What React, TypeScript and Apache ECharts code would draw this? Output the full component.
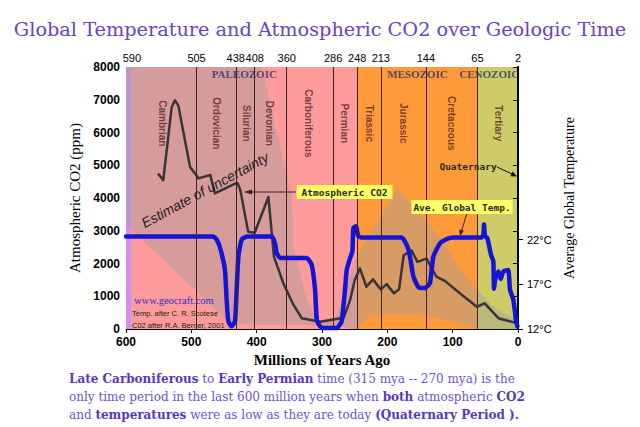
import React, { useEffect, useRef } from "react";
import * as echarts from "echarts";

// Atmospheric CO2 (ppm) vs millions of years ago
const co2Ages = [551, 543, 530, 525, 520, 502, 489, 471, 464, 433, 429, 425, 413, 403, 382, 373.5, 359, 344, 331, 303, 287, 272, 267, 257, 250, 242, 232, 222, 210, 201, 190, 182, 175, 163, 154, 140, 125, 112, 89, 63, 51, 30, 5];
const co2Ppm = [4750, 4540, 6780, 6980, 6830, 4950, 4600, 4700, 4140, 4440, 4450, 4240, 2970, 2940, 4030, 2200, 1390, 750, 330, 222, 275, 326, 330, 880, 1490, 1850, 1290, 1515, 1210, 1370, 1090, 1210, 2250, 2400, 2050, 2150, 1600, 1470, 1090, 680, 784, 330, 195];

// Average global temperature (°C)
const tempAges = [600, 467, 462, 456, 448.5, 446, 443.4, 438.4, 433.2, 430.6, 428, 423, 415, 377, 372, 369.4, 364, 323.5, 315.8, 310.6, 308, 303, 298, 277.5, 270, 264.8, 262.2, 257, 253.5, 252, 248, 244.5, 240, 178, 169.4, 165.3, 160.2, 152.6, 142.3, 134.7, 129.6, 119.4, 108, 99, 55.6, 53, 52, 50.5, 47, 41.3, 37.8, 36.7, 35, 30, 26.5, 22.5, 14.8, 12.3, 7.2, 3.1, 1];
const tempCelsius = [22.37, 22.37, 22.1, 21.1, 18.6, 15.3, 12.85, 12.3, 12.85, 16.4, 20.1, 22, 22.37, 22.37, 21.6, 20.5, 19.95, 19.95, 19.2, 16.4, 13, 12.3, 12.1, 12.1, 12.85, 16.4, 18.6, 19.95, 20.7, 23.3, 23.5, 22.4, 22.26, 22.26, 21.25, 20.1, 17.9, 16.7, 16.6, 17.15, 20.1, 21.6, 22.1, 22.26, 22.26, 22.5, 23.7, 22.4, 22.2, 20.3, 19.6, 16.5, 17.5, 18.45, 17.6, 18.45, 18.6, 16.4, 15.3, 13, 12.3];

// Estimate of uncertainty band for CO2
const bandAges = [600, 441, 395, 390, 346, 344, 323, 308, 280, 247, 226.5, 184, 150, 115, 94, 63, 38, 2];
const bandUpper = [8000, 8000, 8000, 7800, 4030, 2500, 890, 250, 300, 2210, 2900, 4300, 3500, 2710, 2000, 1190, 680, 275];
const bandLower = [3190, 180, 120, 120, 120, 120, 120, 100, 100, 0, 430, 430, 430, 300, 200, 0, 0, 0];

// Period boundaries: where they are drawn on the age scale, and their labels
const boundaryPositions = [591, 492, 432, 403, 354, 283, 246, 210, 141, 62, 0];
const boundaryLabels = ["590", "505", "438", "408", "360", "286", "248", "213", "144", "65", "2"];

// Background bands (age ranges) and colours
const bandStarts = [600, 591, 246, 62];
const bandEnds = [591, 246, 62, 0];
const bandColors = ["#d690e2", "#fd9a9a", "#ff9a3a", "#cdcc68"];

const periodNames = ["Cambrian", "Ordovician", "Silurian", "Devonian", "Carboniferous", "Permian", "Triassic", "Jurassic", "Cretaceous", "Tertiary"];
const periodCenters = [544, 461, 416, 380, 321, 265, 228, 174.5, 101.5, 30];
const periodLabelLevel = 6280;

const eraNames = ["PALEOZOIC", "MESOZOIC", "CENOZOIC"];
const eraCenters = [419, 154, 44];
const eraLabelLevel = 7775;

const co2Min = 0;
const co2Max = 8000;
const co2Interval = 1000;
const tempMin = 12;
const tempMax = 41.34;
const tempTicks = [12, 17, 22];
const ageMin = 0;
const ageMax = 600;
const ageInterval = 100;

const arrowColor = "#3a2424";

export default function App() {
  const ref = useRef<HTMLDivElement>(null);
  useEffect(() => {
    const chart = echarts.init(ref.current as HTMLDivElement, null, { renderer: "svg" });
    const option: any = {
      animation: false,
      backgroundColor: "#ffffff",
      title: {
        text: "Global Temperature and Atmospheric CO2 over Geologic Time",
        left: "center",
        top: 15,
        textStyle: { fontFamily: "DejaVu Serif", fontSize: 19.3, fontWeight: "normal", color: "#6a42c8" },
      },
      grid: { left: 126, right: 122, top: 67, bottom: 98 },
      xAxis: [
        {
          type: "value",
          min: ageMin,
          max: ageMax,
          interval: ageInterval,
          inverse: true,
          position: "bottom",
          name: "Millions of Years Ago",
          nameLocation: "middle",
          nameGap: 21,
          nameTextStyle: { fontFamily: "Liberation Serif", fontSize: 15, fontWeight: "bold", color: "#000" },
          axisLine: { show: true, lineStyle: { color: "#000", width: 1 } },
          axisTick: { show: true, length: 4, lineStyle: { color: "#000" } },
          axisLabel: { fontFamily: "Liberation Sans", fontSize: 12, fontWeight: "bold", color: "#000", margin: 7, formatter: (v: number) => String(v) },
          splitLine: { show: false },
        },
        {
          type: "value",
          min: ageMin,
          max: ageMax,
          inverse: true,
          position: "top",
          axisLine: { show: false },
          axisTick: { show: false },
          splitLine: { show: false },
          axisLabel: {
            customValues: boundaryPositions,
            formatter: (v: number) => {
              const i = boundaryPositions.indexOf(v);
              return i >= 0 ? boundaryLabels[i] : "";
            },
            fontFamily: "Liberation Sans",
            fontSize: 11,
            color: "#000",
            margin: 4,
          },
        },
      ],
      yAxis: [
        {
          type: "value",
          min: co2Min,
          max: co2Max,
          interval: co2Interval,
          name: "Atmospheric CO2 (ppm)",
          nameLocation: "middle",
          nameGap: 41,
          nameTextStyle: { fontFamily: "Liberation Serif", fontSize: 15, color: "#000" },
          axisLine: { show: true, lineStyle: { color: "#000", width: 1 } },
          axisTick: { show: true, length: 5, lineStyle: { color: "#000" } },
          axisLabel: { fontFamily: "Liberation Sans", fontSize: 12, fontWeight: "bold", color: "#000", margin: 6, formatter: (v: number) => String(v) },
          splitLine: { show: false },
        },
        {
          type: "value",
          min: tempMin,
          max: tempMax,
          position: "right",
          name: "Average Global Temperature",
          nameLocation: "middle",
          nameGap: 41,
          nameTextStyle: { fontFamily: "Liberation Serif", fontSize: 14, color: "#000" },
          axisLine: { show: true, lineStyle: { color: "#000", width: 2 } },
          axisTick: { show: true, length: 5, customValues: tempTicks, lineStyle: { color: "#000" } },
          axisLabel: {
            customValues: tempTicks,
            formatter: (v: number) => v + "°C",
            fontFamily: "Liberation Sans",
            fontSize: 11,
            color: "#000",
            margin: 9,
          },
          splitLine: { show: false },
        },
      ],
      series: [
        {
          type: "custom",
          name: "background",
          silent: true,
          z: 0,
          clip: true,
          data: bandStarts.map((s, i) => [s, bandEnds[i]]),
          encode: { x: [0, 1] },
          renderItem: (params: any, api: any) => {
            const p0 = api.coord([api.value(0), co2Max]);
            const p1 = api.coord([api.value(1), co2Min]);
            return {
              type: "rect",
              shape: { x: Math.min(p0[0], p1[0]), y: p0[1], width: Math.abs(p1[0] - p0[0]), height: p1[1] - p0[1] },
              style: { fill: bandColors[params.dataIndex] },
            };
          },
        },
        {
          type: "custom",
          name: "Estimate of uncertainty",
          silent: true,
          z: 1,
          clip: true,
          data: bandAges.map((a, i) => [a, bandLower[i], bandUpper[i]]),
          encode: { x: 0, y: [1, 2] },
          renderItem: (params: any, api: any) => {
            if (params.dataIndex !== 0) return null;
            const pts: number[][] = [];
            for (let i = 0; i < bandAges.length; i++) pts.push(api.coord([bandAges[i], bandUpper[i]]));
            for (let i = bandAges.length - 1; i >= 0; i--) pts.push(api.coord([bandAges[i], bandLower[i]]));
            return { type: "polygon", shape: { points: pts }, style: { fill: "rgba(157,157,157,0.41)" } };
          },
          markLine: {
            silent: true,
            symbol: "none",
            label: { show: false },
            lineStyle: { color: "#3b2222", width: 1, type: "solid" },
            data: boundaryPositions.slice(1, boundaryPositions.length - 1).map((p) => ({ xAxis: p })),
          },
        },
        {
          type: "line",
          name: "Atmospheric CO2",
          z: 3,
          xAxisIndex: 0,
          yAxisIndex: 0,
          data: co2Ages.map((a, i) => [a, co2Ppm[i]]),
          showSymbol: false,
          symbol: "none",
          lineStyle: { color: "#363636", width: 2.5, join: "round" },
        },
        {
          type: "line",
          name: "Ave. Global Temp.",
          z: 4,
          xAxisIndex: 0,
          yAxisIndex: 1,
          data: tempAges.map((a, i) => [a, tempCelsius[i]]),
          showSymbol: false,
          symbol: "none",
          smooth: 0.15,
          lineStyle: { color: "#1414d6", width: 4.5, join: "round", cap: "round" },
        },
        {
          type: "scatter",
          name: "periods",
          silent: true,
          z: 2,
          symbolSize: 1,
          itemStyle: { color: "rgba(0,0,0,0)" },
          data: periodNames.map((n, i) => ({ name: n, value: [periodCenters[i], periodLabelLevel] })),
          label: {
            show: true,
            formatter: "{b}",
            position: "inside",
            rotate: -90,
            fontFamily: "Liberation Sans",
            fontSize: 10,
            fontWeight: "bold",
            color: "#5a2424",
          },
        },
        {
          type: "scatter",
          name: "eras",
          silent: true,
          z: 2,
          symbolSize: 1,
          itemStyle: { color: "rgba(0,0,0,0)" },
          data: eraNames.map((n, i) => ({ name: n, value: [eraCenters[i], eraLabelLevel] })),
          label: {
            show: true,
            formatter: "{b}",
            position: "inside",
            fontFamily: "Liberation Serif",
            fontSize: 11,
            fontWeight: "bold",
            color: "#2c2c6a",
          },
        },
      ],
      graphic: [
        {
          type: "text",
          x: 205,
          y: 190,
          rotation: (28.5 * Math.PI) / 180,
          z: 10,
          style: {
            text: "Estimate of uncertainty",
            fontFamily: "Liberation Sans",
            fontStyle: "italic",
            fontSize: 14,
            fill: "#222",
            align: "center",
            verticalAlign: "middle",
          },
        },
        { type: "line", z: 10, shape: { x1: 296, y1: 192, x2: 250, y2: 192 }, style: { stroke: arrowColor, lineWidth: 1 } },
        { type: "polygon", z: 10, shape: { points: [[244, 192], [252, 189.5], [252, 194.5]] }, style: { fill: arrowColor } },
        {
          type: "text",
          x: 344.5,
          y: 192,
          z: 10,
          style: {
            text: "Atmospheric CO2",
            fontFamily: "DejaVu Sans Mono",
            fontWeight: "bold",
            fontSize: 9.5,
            fill: "#2a2a2a",
            backgroundColor: "#ffff66",
            padding: [2, 5],
            align: "center",
            verticalAlign: "middle",
          },
        },
        { type: "line", z: 10, shape: { x1: 467, y1: 213, x2: 461.5, y2: 231 }, style: { stroke: arrowColor, lineWidth: 1 } },
        { type: "polygon", z: 10, shape: { points: [[460, 236], [463.9, 230.8], [459.1, 229.6]] }, style: { fill: arrowColor } },
        {
          type: "text",
          x: 462,
          y: 207,
          z: 10,
          style: {
            text: "Ave. Global Temp.",
            fontFamily: "DejaVu Sans Mono",
            fontWeight: "bold",
            fontSize: 9.5,
            fill: "#2a2a2a",
            backgroundColor: "#ffff66",
            padding: [2, 2],
            align: "center",
            verticalAlign: "middle",
          },
        },
        {
          type: "text",
          x: 468,
          y: 166,
          z: 10,
          style: {
            text: "Quaternary",
            fontFamily: "DejaVu Sans Mono",
            fontWeight: "bold",
            fontSize: 9.5,
            fill: "#2a2a2a",
            align: "center",
            verticalAlign: "middle",
          },
        },
        { type: "line", z: 10, shape: { x1: 497, y1: 167, x2: 512, y2: 174 }, style: { stroke: "#111", lineWidth: 1 } },
        { type: "polygon", z: 10, shape: { points: [[517, 176.5], [510.5, 176.2], [512.7, 171.6]] }, style: { fill: "#111" } },
        {
          type: "text",
          x: 134,
          y: 300,
          z: 10,
          style: { text: "www.geocraft.com", fontFamily: "Liberation Serif", fontSize: 10.5, fill: "#3030c8", verticalAlign: "middle" },
        },
        {
          type: "text",
          x: 132,
          y: 313,
          z: 10,
          style: { text: "Temp. after C. R. Scotese", fontFamily: "Liberation Sans", fontSize: 7.5, fill: "#222", verticalAlign: "middle" },
        },
        {
          type: "text",
          x: 132,
          y: 325,
          z: 10,
          style: { text: "C02 after R.A. Berner, 2001", fontFamily: "Liberation Sans", fontSize: 7.5, fill: "#222", verticalAlign: "middle" },
        },
        {
          type: "text",
          x: 69,
          y: 370,
          z: 10,
          style: {
            text:
              "{b|Late Carboniferous}{n| to }{b|Early Permian}{n| time (315 mya -- 270 mya) is the}\n" +
              "{n|only time period in the last 600 million years when }{b|both}{n| atmospheric }{b|CO2}\n" +
              "{n|and }{b|temperatures}{n| were as low as they are today }{b|(Quaternary Period ).}",
            verticalAlign: "top",
            fill: "#7150d4",
            rich: {
              n: { fontFamily: "DejaVu Serif", fontSize: 12, fill: "#7150d4", lineHeight: 18 },
              b: { fontFamily: "DejaVu Serif", fontSize: 12, fontWeight: "bold", fill: "#5a36c2", lineHeight: 18 },
            },
          },
        },
      ],
    };
    chart.setOption(option);
    return () => chart.dispose();
  }, []);
  return (
    <div
      ref={ref}
      style={{ position: "fixed", left: 0, top: 0, width: 640, height: 427, background: "#ffffff" }}
    />
  );
}
